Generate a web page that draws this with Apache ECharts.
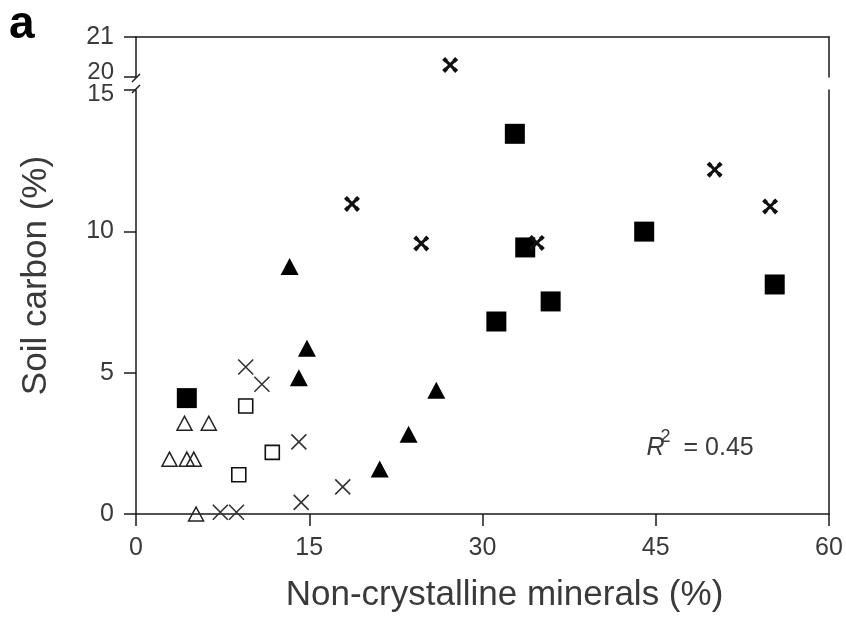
<!DOCTYPE html>
<html>
<head>
<meta charset="utf-8">
<script src="https://cdn.jsdelivr.net/npm/echarts@6/dist/echarts.min.js"></script>
<style>
  html, body { margin: 0; padding: 0; background: #fff; }
  #chart { width: 846px; height: 618px; }
</style>
</head>
<body>
<div id="chart"></div>
<script>
// Soil carbon vs non-crystalline minerals, one array per soil group: [x %, y %]
const filledSquares = [[4.4, 4.1], [32.8, 13.45], [33.7, 9.43], [44.0, 9.99], [35.9, 7.52], [31.2, 6.81], [55.3, 8.12]];
const openSquares = [[9.5, 3.82], [11.8, 2.18], [8.9, 1.39]];
const filledTriangles = [[13.3, 8.76], [14.8, 5.86], [14.1, 4.82], [26.0, 4.38], [23.6, 2.82], [21.1, 1.59]];
const openTriangles = [[4.2, 3.21], [6.3, 3.21], [2.9, 1.94], [4.4, 1.94], [5.0, 1.94], [5.2, 0.0]];
const crosses = [[9.5, 5.2], [10.9, 4.59], [14.1, 2.55], [17.9, 0.96], [14.3, 0.41], [7.3, 0.06], [8.7, 0.06]];
const starCrosses = [[27.2, 20.3], [18.7, 10.97], [24.7, 9.57], [34.7, 9.59], [50.1, 12.18], [54.9, 10.88]];

const xTicks = [0, 15, 30, 45, 60];
const lowerYTicks = [0, 5, 10, 15];
const upperYTicks = [20, 21];
const rSquared = '0.45';

const FONT = '"Liberation Sans", Arial, sans-serif';
const TEXT = '#3a3a3a';
const LINE = '#1a1a1a';

// split at the axis break
const BREAK_LOW = 15, BREAK_HIGH = 20;
const starLower = starCrosses.filter(p => p[1] <= BREAK_LOW);
const starUpper = starCrosses.filter(p => p[1] >= BREAK_HIGH);

// four-armed cross with knobbed ends
const starPath = 'path://M4,0 L8,4 L4,8 L0,4 Z M18,0 L22,4 L18,8 L14,4 Z M4,14 L8,18 L4,22 L0,18 Z M18,14 L22,18 L18,22 L14,18 Z M2,5 L5,2 L20,17 L17,20 Z M17,2 L20,5 L5,20 L2,17 Z';
const xPath = 'path://M0,0 L10,10 M10,0 L0,10';

const chart = echarts.init(document.getElementById('chart'), null, { renderer: 'canvas' });

const tickLabel = { color: TEXT, fontFamily: FONT, fontSize: 25 };

const option = {
  backgroundColor: '#fff',
  animation: false,
  grid: [
    { left: 136, right: 17, top: 37, height: 40 },
    { left: 136, right: 17, top: 90, bottom: 103 }
  ],
  xAxis: [
    {
      gridIndex: 0, type: 'value', position: 'top',
      min: xTicks[0], max: xTicks[xTicks.length - 1], interval: 15,
      axisLine: { show: true, lineStyle: { color: LINE, width: 1.5 } },
      axisTick: { show: false }, axisLabel: { show: false }, splitLine: { show: false }
    },
    {
      gridIndex: 1, type: 'value', position: 'bottom',
      min: xTicks[0], max: xTicks[xTicks.length - 1], interval: 15,
      axisLine: { show: true, onZero: false, lineStyle: { color: LINE, width: 1.5 } },
      axisTick: { show: true, inside: false, length: 12, lineStyle: { color: LINE, width: 1.5 } },
      axisLabel: Object.assign({ margin: 22 }, tickLabel),
      splitLine: { show: false },
      name: 'Non-crystalline minerals (%)',
      nameLocation: 'middle', nameGap: 64,
      nameTextStyle: { color: TEXT, fontFamily: FONT, fontSize: 35, padding: [0, 0, 0, 44] }
    }
  ],
  yAxis: [
    {
      gridIndex: 0, type: 'value', position: 'left',
      min: upperYTicks[0], max: upperYTicks[1], interval: 1,
      axisLine: { show: true, onZero: false, lineStyle: { color: LINE, width: 1.5 } },
      axisTick: { show: true, length: 12, lineStyle: { color: LINE, width: 1.5 } },
      axisLabel: Object.assign({
        margin: 22,
        formatter: v => v === BREAK_HIGH ? '{up|' + v + '}' : String(v),
        rich: { up: { fontFamily: FONT, fontSize: 24, color: TEXT, padding: [0, 0, 9, 0] } }
      }, tickLabel),
      splitLine: { show: false }
    },
    {
      gridIndex: 0, type: 'value', position: 'right',
      min: upperYTicks[0], max: upperYTicks[1], interval: 1,
      axisLine: { show: true, onZero: false, lineStyle: { color: LINE, width: 1.5 } },
      axisTick: { show: false }, axisLabel: { show: false }, splitLine: { show: false }
    },
    {
      gridIndex: 1, type: 'value', position: 'left',
      min: lowerYTicks[0], max: lowerYTicks[lowerYTicks.length - 1], interval: 5,
      axisLine: { show: true, onZero: false, lineStyle: { color: LINE, width: 1.5 } },
      axisTick: { show: true, length: 12, lineStyle: { color: LINE, width: 1.5 } },
      axisLabel: Object.assign({
        margin: 22,
        formatter: v => v === BREAK_LOW ? '{dn|' + v + '}' : String(v),
        rich: { dn: { fontFamily: FONT, fontSize: 24, color: TEXT, padding: [8, 0, 0, 0] } }
      }, tickLabel),
      splitLine: { show: false }
    },
    {
      gridIndex: 1, type: 'value', position: 'right',
      min: lowerYTicks[0], max: lowerYTicks[lowerYTicks.length - 1], interval: 5,
      axisLine: { show: true, onZero: false, lineStyle: { color: LINE, width: 1.5 } },
      axisTick: { show: false }, axisLabel: { show: false }, splitLine: { show: false }
    }
  ],
  series: [
    {
      name: 'filled squares', type: 'scatter', xAxisIndex: 1, yAxisIndex: 2,
      data: filledSquares, symbol: 'rect', symbolSize: 20,
      itemStyle: { color: '#000', opacity: 1 }
    },
    {
      name: 'open squares', type: 'scatter', xAxisIndex: 1, yAxisIndex: 2,
      data: openSquares, symbol: 'rect', symbolSize: 14,
      itemStyle: { color: '#fff', borderColor: '#111', borderWidth: 1.6, opacity: 1 }
    },
    {
      name: 'filled triangles', type: 'scatter', xAxisIndex: 1, yAxisIndex: 2,
      data: filledTriangles, symbol: 'triangle', symbolSize: [18, 17],
      itemStyle: { color: '#000', opacity: 1 }
    },
    {
      name: 'open triangles', type: 'scatter', xAxisIndex: 1, yAxisIndex: 2,
      data: openTriangles, symbol: 'triangle', symbolSize: [15, 14],
      itemStyle: { color: 'rgba(255,255,255,0)', borderColor: '#222', borderWidth: 1.5, opacity: 1 }
    },
    {
      name: 'crosses', type: 'scatter', xAxisIndex: 1, yAxisIndex: 2,
      data: crosses, symbol: xPath, symbolSize: 15,
      itemStyle: { color: 'none', borderColor: '#333', borderWidth: 1.6, opacity: 1 }
    },
    {
      name: 'star crosses', type: 'scatter', xAxisIndex: 1, yAxisIndex: 2,
      data: starLower, symbol: starPath, symbolSize: 16,
      itemStyle: { color: '#111', opacity: 1 }
    },
    {
      name: 'star crosses (upper)', type: 'scatter', xAxisIndex: 0, yAxisIndex: 0,
      data: starUpper, symbol: starPath, symbolSize: 16,
      itemStyle: { color: '#111', opacity: 1 }
    }
  ]
};

chart.setOption(option);

// break marks on the left axis, panel letter, y-axis title and R² note
const pUp = chart.convertToPixel({ xAxisIndex: 0, yAxisIndex: 0 }, [0, BREAK_HIGH]);
const pLow = chart.convertToPixel({ xAxisIndex: 1, yAxisIndex: 2 }, [0, BREAK_LOW]);
const rPos = chart.convertToPixel({ xAxisIndex: 1, yAxisIndex: 2 }, [44.2, 2.33]);
const yMid = (chart.convertToPixel({ xAxisIndex: 0, yAxisIndex: 0 }, [0, upperYTicks[1]])[1] +
              chart.convertToPixel({ xAxisIndex: 1, yAxisIndex: 2 }, [0, 0])[1]) / 2;

function slash(p) {
  return {
    type: 'line', silent: true,
    shape: { x1: p[0] - 4, y1: p[1] + 4, x2: p[0] + 4, y2: p[1] - 4 },
    style: { stroke: LINE, lineWidth: 1.5 }
  };
}

chart.setOption({
  graphic: [
    slash([pUp[0], pUp[1] + 1]),
    slash([pLow[0], pLow[1] - 1]),
    {
      type: 'text', left: 9, top: 2,
      style: { text: 'a', fill: '#000', font: '900 46px ' + FONT }
    },
    {
      type: 'text', x: 36, y: yMid, rotation: Math.PI / 2,
      style: {
        text: 'Soil carbon (%)', fill: TEXT, font: '35px ' + FONT,
        align: 'center', verticalAlign: 'middle'
      }
    },
    {
      type: 'group', x: rPos[0], y: rPos[1],
      children: [
        { type: 'text', x: 0, y: 0, style: { text: 'R', fill: TEXT, font: 'italic 25px ' + FONT, verticalAlign: 'middle' } },
        { type: 'text', x: 14, y: -11, style: { text: '2', fill: TEXT, font: '18px ' + FONT, verticalAlign: 'middle' } },
        { type: 'text', x: 37, y: 0, style: { text: '= ' + rSquared, fill: TEXT, font: '25px ' + FONT, verticalAlign: 'middle' } }
      ]
    }
  ]
});
</script>
</body>
</html>
